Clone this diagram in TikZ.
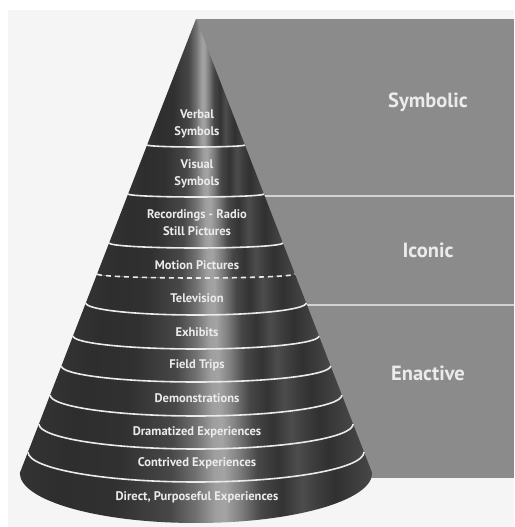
\documentclass[tikz,border=0pt]{standalone}
\usepackage{fontspec}
\usepackage{tikz}
\newfontfamily\conefont{PT Sans}
\usetikzlibrary{%
  positioning,% wg. " of "
  backgrounds%
}

\pgfdeclarehorizontalshading{conebody}{100bp}{%
  color(0bp)=(black!80); color(25bp)=(black!80);
  color(30.7bp)=(black!82); color(38.5bp)=(black!81);
  color(46.3bp)=(black!72); color(49.9bp)=(black!56);
  color(52.7bp)=(black!38); color(54.1bp)=(black!36);
  color(56.3bp)=(black!50); color(59.1bp)=(black!72);
  color(62.2bp)=(black!80); color(65.1bp)=(black!70);
  color(67.3bp)=(black!76); color(69.7bp)=(black!81);
  color(72.6bp)=(black!76); color(75bp)=(black!72);
  color(100bp)=(black!72)}

\definecolor{paper}{HTML}{F5F5F5}
\definecolor{panelgray}{HTML}{8B8B8B}
\definecolor{rulegray}{HTML}{D2D2D2}
\definecolor{labelwhite}{HTML}{EBEBEB}

\begin{document}
\begin{tikzpicture}
[x=1pt, y=1pt,
coneband/.style={shade, shading=conebody},
sepline/.style={draw=labelwhite, line width=1.6pt},
divider/.style={draw=rulegray, line width=1.2pt},
stage/.style={font=\conefont\bfseries\fontsize{12.5}{17}\selectfont, text=labelwhite, align=center, inner sep=0pt},
level/.style={font=\conefont\bfseries\fontsize{20.5}{24}\selectfont, text=labelwhite, inner sep=0pt}]

\useasboundingbox (0,0) rectangle (514,527);
\fill[white] (0,0) rectangle (514,527);
\fill[paper] (8,0) rectangle (514,517);

\coordinate (apex) at (196,508);
\fill[panelgray] (apex) rectangle (514,49);

\coordinate (symbolicend) at (196,331);
\coordinate (symbolicright) at (514,331);
\coordinate (iconicend) at (196,222);
\coordinate (iconicright) at (514,222);
\draw[divider] (symbolicend) -- (symbolicright);
\draw[divider] (iconicend) -- (iconicright);

\path[coneband] (147.1,382) arc[start angle=180, end angle=360, x radius=48.9, y radius=2] -- (apex) -- cycle;
\path[coneband] (128.1,333) arc[start angle=180, end angle=360, x radius=67.9, y radius=3]
  -- (244.9,382) arc[start angle=360, end angle=180, x radius=48.9, y radius=2] -- cycle;
\path[coneband] (109.1,284) arc[start angle=180, end angle=360, x radius=86.9, y radius=5]
  -- (263.9,333) arc[start angle=360, end angle=180, x radius=67.9, y radius=3] -- cycle;
\path[coneband] (97.1,253) arc[start angle=180, end angle=360, x radius=98.9, y radius=4]
  -- (282.9,284) arc[start angle=360, end angle=180, x radius=86.9, y radius=5] -- cycle;
\path[coneband] (85.8,224) arc[start angle=180, end angle=360, x radius=110.2, y radius=12]
  -- (294.9,253) arc[start angle=360, end angle=180, x radius=98.9, y radius=4] -- cycle;
\path[coneband] (73.0,191) arc[start angle=180, end angle=360, x radius=123.0, y radius=13]
  -- (306.2,224) arc[start angle=360, end angle=180, x radius=110.2, y radius=12] -- cycle;
\path[coneband] (61.4,161) arc[start angle=180, end angle=360, x radius=134.6, y radius=16]
  -- (319.0,191) arc[start angle=360, end angle=180, x radius=123.0, y radius=13] -- cycle;
\path[coneband] (50.1,132) arc[start angle=180, end angle=360, x radius=145.9, y radius=21]
  -- (330.6,161) arc[start angle=360, end angle=180, x radius=134.6, y radius=16] -- cycle;
\path[coneband] (38.9,103) arc[start angle=180, end angle=360, x radius=157.1, y radius=25]
  -- (341.9,132) arc[start angle=360, end angle=180, x radius=145.9, y radius=21] -- cycle;
\path[coneband] (28.0,75) arc[start angle=180, end angle=360, x radius=168.0, y radius=30]
  -- (353.1,103) arc[start angle=360, end angle=180, x radius=157.1, y radius=25] -- cycle;
\path[coneband] (19.8,54) arc[start angle=180, end angle=360, x radius=176.2, y radius=50]
  -- (364.0,75) arc[start angle=360, end angle=180, x radius=168.0, y radius=30] -- cycle;

\draw[sepline] (147.1,382) arc[start angle=180, end angle=360, x radius=48.9, y radius=2];
\draw[sepline] (128.1,333) arc[start angle=180, end angle=360, x radius=67.9, y radius=3];
\draw[sepline] (109.1,284) arc[start angle=180, end angle=360, x radius=86.9, y radius=5];
\draw[sepline, dash pattern=on 5pt off 4pt] (97.1,253) arc[start angle=180, end angle=360, x radius=98.9, y radius=4];
\draw[sepline] (85.8,224) arc[start angle=180, end angle=360, x radius=110.2, y radius=12];
\draw[sepline] (73.0,191) arc[start angle=180, end angle=360, x radius=123.0, y radius=13];
\draw[sepline] (61.4,161) arc[start angle=180, end angle=360, x radius=134.6, y radius=16];
\draw[sepline] (50.1,132) arc[start angle=180, end angle=360, x radius=145.9, y radius=21];
\draw[sepline] (38.9,103) arc[start angle=180, end angle=360, x radius=157.1, y radius=25];
\draw[sepline] (28.0,75) arc[start angle=180, end angle=360, x radius=168.0, y radius=30];

\node[stage] (verbal) at (197,403.5) {Verbal\\Symbols};
\node[stage] (visual) at (197,353.5) {Visual\\Symbols};
\node[stage] (recordings) at (197,304) {Recordings - Radio\\Still Pictures};
\node[stage] (motion) at (197,262) {Motion Pictures};
\node[stage] (television) at (197,229) {Television};
\node[stage] (exhibits) at (197,195) {Exhibits};
\node[stage] (fieldtrips) at (197,162) {Field Trips};
\node[stage] (demos) at (197,129) {Demonstrations};
\node[stage] (dramatized) at (197,95) {Dramatized Experiences};
\node[stage] (contrived) at (197,64) {Contrived Experiences};
\node[stage] (direct) at (197,30) {Direct, Purposeful Experiences};

\node[level] (symbolic) at (428,425) {Symbolic};
\node[level] (iconic) at (428,277) {Iconic};
\node[level] (enactive) at (428,154) {Enactive};
\end{tikzpicture}
\end{document}
